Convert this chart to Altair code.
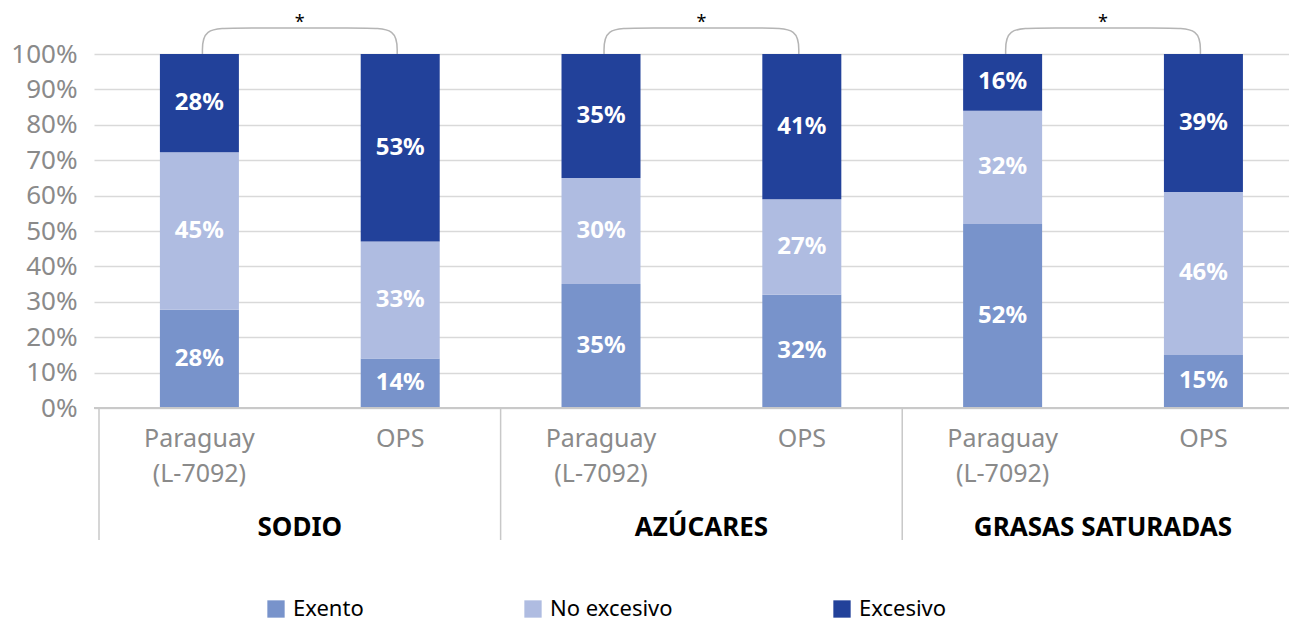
import altair as alt
import pandas as pd

groups = ["SODIO", "AZÚCARES", "GRASAS SATURADAS"]
sources = ["Paraguay\n(L-7092)", "OPS"]
categories = ["Exento", "No excesivo", "Excesivo"]
colors = ["#7893CB", "#AFBCE1", "#22419A"]
exento = [28, 14, 35, 32, 52, 15]
no_excesivo = [45, 33, 30, 27, 32, 46]
excesivo = [28, 53, 35, 41, 16, 39]
y_ticks = [0, 0.1, 0.2, 0.3, 0.4, 0.5, 0.6, 0.7, 0.8, 0.9, 1.0]

FONT = "Noto Sans"
GRAY = "#8A8A8A"
PLOT_W = 1195
PLOT_H = 354
XMAX = PLOT_W / 202.5

series = [exento, no_excesivo, excesivo]
rows = []
for i in range(6):
    for k, cat in enumerate(categories):
        rows.append({"bar": i, "pos": i + 0.5, "category": cat, "ord": k,
                     "value": series[k][i]})
df = pd.DataFrame(rows)

src_rows = [{"pos": i + 0.5, "label": sources[i % 2]} for i in range(6)]
df_src = pd.DataFrame(src_rows)
df_grp = pd.DataFrame([{"center": 2 * g + 1, "name": groups[g], "star": "*"} for g in range(3)])
df_sep = pd.DataFrame({"b": [0, 2, 4, 6]})

# bracket path (decoration) built from each pair's bar centres
top = 1.0 + 26 / PLOT_H
e, c = 0.015, 0.17
br_rows = []
for g in range(3):
    p1, p2 = 2 * g + 0.5 + e, 2 * g + 1.5 - e
    pts = [(p1, 1.0), (p1, top), (p1 + c, top), (p2 - c, top), (p2, top), (p2, 1.0)]
    for j, (x, y) in enumerate(pts):
        br_rows.append({"g": g, "j": j, "bx": x, "by": y})
df_br = pd.DataFrame(br_rows)

xscale = alt.Scale(domain=[0, XMAX])
yscale = alt.Scale(domain=[0, 1])
yaxis = alt.Axis(format=".0%", values=y_ticks, grid=True, gridColor="#D9D9D9",
                 gridWidth=1.5, domain=False, ticks=False, labelPadding=17,
                 labelFontSize=26, labelFont=FONT, labelColor=GRAY, title=None,
                 labelOverlap=False)

bars = alt.Chart(df).mark_bar(width=79).encode(
    x=alt.X("pos:Q", scale=xscale, axis=None),
    y=alt.Y("value:Q", stack="normalize", scale=yscale, title=None, axis=yaxis),
    color=alt.Color("category:N", scale=alt.Scale(domain=categories, range=colors),
                    legend=alt.Legend(title=None, orient="none", direction="horizontal",
                                      legendX=171, legendY=544, columnPadding=158,
                                      symbolType="square", symbolSize=300,
                                      symbolStrokeWidth=0, symbolOpacity=1,
                                      labelFontSize=22, labelFont=FONT, labelColor="black",
                                      labelOffset=6, padding=0)),
    order=alt.Order("ord:Q"),
)

labels = alt.Chart(df).transform_joinaggregate(
    total="sum(value)", groupby=["bar"]
).transform_window(
    cum="sum(value)", groupby=["bar"], sort=[alt.SortField("ord")], frame=[None, 0]
).transform_calculate(
    mid="(datum.cum - datum.value/2)/datum.total",
    lab="datum.value + '%'"
).mark_text(fontSize=24, fontWeight="bold", font=FONT, color="white", baseline="middle").encode(
    x=alt.X("pos:Q", scale=xscale, axis=None),
    y=alt.Y("mid:Q", scale=yscale, title=None, axis=yaxis),
    text="lab:N",
)

base_line = alt.Chart(df_sep).mark_rule(color="#C8C8C8", strokeWidth=1.5).encode(
    x=alt.value(0), x2=alt.value(PLOT_W), y=alt.value(PLOT_H)
)

seps = alt.Chart(df_sep).mark_rule(color="#C8C8C8", strokeWidth=1.5).encode(
    x=alt.X("b:Q", scale=xscale, axis=None), y=alt.value(PLOT_H), y2=alt.value(PLOT_H + 132)
)

src_text = alt.Chart(df_src).mark_text(fontSize=25, font=FONT, color=GRAY, baseline="top",
                                       lineBreak="\n", lineHeight=35).encode(
    x=alt.X("pos:Q", scale=xscale, axis=None), y=alt.value(373), text="label:N"
)

grp_text = alt.Chart(df_grp).mark_text(fontSize=26, font=FONT, fontWeight="bold", color="black",
                                       baseline="middle").encode(
    x=alt.X("center:Q", scale=xscale, axis=None), y=alt.value(474), text="name:N"
)

brackets = alt.Chart(df_br).mark_line(interpolate="basis", color="#B5B5B5", strokeWidth=1.5).encode(
    x=alt.X("bx:Q", scale=xscale, axis=None),
    y=alt.Y("by:Q", scale=yscale, title=None, axis=yaxis),
    detail="g:N",
    order="j:Q",
)

stars = alt.Chart(df_grp).mark_text(fontSize=18, font=FONT, color="black", baseline="middle").encode(
    x=alt.X("center:Q", scale=xscale, axis=None), y=alt.value(-31), text="star:N"
)

chart = alt.layer(bars, brackets, labels, base_line, seps, src_text, grp_text, stars).properties(
    width=PLOT_W, height=PLOT_H,
    padding={"left": 86, "top": 46, "right": 0, "bottom": 216},
    autosize=alt.AutoSizeParams(type="none"),
).configure_view(stroke=None)

chart.save("out.html", embed_options={"renderer": "svg", "actions": False})
